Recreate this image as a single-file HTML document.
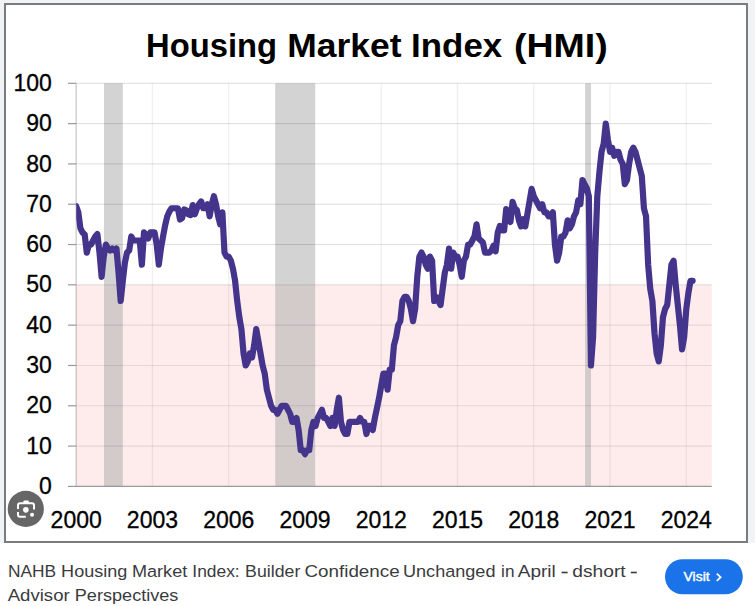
<!DOCTYPE html>
<html><head><meta charset="utf-8">
<style>
html,body{margin:0;padding:0;}
body{width:755px;height:606px;overflow:hidden;background:#fff;position:relative;font-family:"Liberation Sans",sans-serif;}
#top{position:absolute;left:0;top:0;width:755px;height:543px;background:#f1f3f4;}
#img{position:absolute;left:4px;top:3px;width:740px;height:536px;border:2px solid #7b7b7b;background:#fff;}
svg{position:absolute;left:0;top:0;}
</style></head><body>
<div id="top"></div>
<div id="img"></div>
<svg width="755" height="606" viewBox="0 0 755 606">
<g font-family="Liberation Sans" font-weight="bold" font-size="33" fill="#000"><text x="146.1" y="56.6" textLength="130.9" lengthAdjust="spacingAndGlyphs">Housing</text><text x="287.3" y="56.6" textLength="114.2" lengthAdjust="spacingAndGlyphs">Market</text><text x="411.1" y="56.6" textLength="91.1" lengthAdjust="spacingAndGlyphs">Index</text><text x="513.9" y="56.6" textLength="93.8" lengthAdjust="spacingAndGlyphs">(HMI)</text></g>
<rect x="76.2" y="284.85" width="635.5" height="201.55" fill="#feebeb"/>
<g stroke="#000" stroke-opacity="0.06" stroke-width="1.4"><line x1="152.46" y1="83.30" x2="152.46" y2="486.40"/><line x1="228.72" y1="83.30" x2="228.72" y2="486.40"/><line x1="304.98" y1="83.30" x2="304.98" y2="486.40"/><line x1="381.24" y1="83.30" x2="381.24" y2="486.40"/><line x1="457.50" y1="83.30" x2="457.50" y2="486.40"/><line x1="533.76" y1="83.30" x2="533.76" y2="486.40"/><line x1="610.02" y1="83.30" x2="610.02" y2="486.40"/><line x1="686.28" y1="83.30" x2="686.28" y2="486.40"/></g>
<g><rect x="104.0" y="83.30" width="18.80" height="201.55" fill="#d3d3d3"/><rect x="104.0" y="284.85" width="18.80" height="201.55" fill="#d3caca"/><rect x="275.2" y="83.30" width="40.00" height="201.55" fill="#d3d3d3"/><rect x="275.2" y="284.85" width="40.00" height="201.55" fill="#d3caca"/><rect x="585.1" y="83.30" width="5.90" height="201.55" fill="#d3d3d3"/><rect x="585.1" y="284.85" width="5.90" height="201.55" fill="#d3caca"/></g>
<g stroke="#000" stroke-opacity="0.09" stroke-width="1.1"><line x1="76.2" y1="446.09" x2="711.7" y2="446.09"/><line x1="76.2" y1="405.78" x2="711.7" y2="405.78"/><line x1="76.2" y1="365.47" x2="711.7" y2="365.47"/><line x1="76.2" y1="325.16" x2="711.7" y2="325.16"/></g><g stroke="#000" stroke-opacity="0.135" stroke-width="1"><line x1="76.2" y1="284.85" x2="711.7" y2="284.85"/><line x1="76.2" y1="244.54" x2="711.7" y2="244.54"/><line x1="76.2" y1="204.23" x2="711.7" y2="204.23"/><line x1="76.2" y1="163.92" x2="711.7" y2="163.92"/><line x1="76.2" y1="123.61" x2="711.7" y2="123.61"/><line x1="76.2" y1="83.30" x2="711.7" y2="83.30"/></g>
<line x1="76.2" y1="83.30" x2="76.2" y2="486.4" stroke="#000" stroke-opacity="0.17" stroke-width="1.6"/><g stroke="#999" stroke-width="1.2"><line x1="68" y1="486.40" x2="76.2" y2="486.40"/><line x1="68" y1="446.09" x2="76.2" y2="446.09"/><line x1="68" y1="405.78" x2="76.2" y2="405.78"/><line x1="68" y1="365.47" x2="76.2" y2="365.47"/><line x1="68" y1="325.16" x2="76.2" y2="325.16"/><line x1="68" y1="284.85" x2="76.2" y2="284.85"/><line x1="68" y1="244.54" x2="76.2" y2="244.54"/><line x1="68" y1="204.23" x2="76.2" y2="204.23"/><line x1="68" y1="163.92" x2="76.2" y2="163.92"/><line x1="68" y1="123.61" x2="76.2" y2="123.61"/><line x1="68" y1="83.30" x2="76.2" y2="83.30"/><line x1="76.2" y1="486.4" x2="711.7" y2="486.4"/></g>
<clipPath id="pc"><rect x="76.2" y="60" width="660" height="440"/></clipPath>
<polyline clip-path="url(#pc)" points="76.20,206.25 78.32,212.29 80.44,228.42 82.56,232.45 84.67,234.46 86.79,252.60 88.91,244.54 91.03,244.54 93.15,240.51 95.27,236.48 97.38,234.06 99.50,252.60 101.62,276.79 103.74,256.63 105.86,244.54 107.98,248.57 110.09,250.59 112.21,248.57 114.33,250.59 116.45,248.57 118.57,272.76 120.69,300.97 122.80,280.82 124.92,262.68 127.04,252.60 129.16,250.59 131.28,236.48 133.40,240.51 135.51,240.51 137.63,240.51 139.75,240.51 141.87,264.69 143.99,232.45 146.11,234.46 148.22,238.49 150.34,232.45 152.46,232.45 154.58,232.45 156.70,244.54 158.81,264.69 160.93,248.57 163.05,236.48 165.17,225.19 167.29,216.32 169.41,211.49 171.53,208.26 173.64,208.26 175.76,208.26 177.88,208.26 180.00,219.55 182.12,217.94 184.24,209.47 186.35,210.28 188.47,214.31 190.59,215.11 192.71,205.04 194.83,214.31 196.94,208.26 199.06,204.23 201.18,201.41 203.30,208.26 205.42,208.26 207.54,204.23 209.66,216.32 211.77,204.23 213.89,196.17 216.01,204.23 218.13,216.32 220.25,224.38 222.37,212.29 224.48,252.60 226.60,256.63 228.72,256.63 230.84,260.66 232.96,268.73 235.08,280.82 237.19,300.97 239.31,317.10 241.43,329.19 243.55,353.38 245.67,365.47 247.79,361.44 249.90,353.38 252.02,357.41 254.14,345.31 256.26,329.19 258.38,341.28 260.50,353.38 262.61,365.47 264.73,373.53 266.85,389.66 268.97,397.72 271.09,405.78 273.20,409.81 275.32,409.81 277.44,413.84 279.56,409.81 281.68,405.78 283.80,405.78 285.92,405.78 288.03,409.81 290.15,413.84 292.27,421.90 294.39,421.90 296.51,417.87 298.63,429.97 300.74,450.12 302.86,450.12 304.98,454.15 307.10,450.12 309.22,450.12 311.34,429.97 313.45,421.90 315.57,425.94 317.69,417.87 319.81,413.84 321.93,409.81 324.05,417.87 326.16,417.87 328.28,421.90 330.40,425.94 332.52,417.87 334.64,425.94 336.75,409.81 338.87,397.72 340.99,421.90 343.11,429.97 345.23,434.00 347.35,434.00 349.47,421.90 351.58,421.90 353.70,421.90 355.82,421.90 357.94,421.90 360.06,417.87 362.18,421.90 364.29,421.90 366.41,434.00 368.53,425.94 370.65,425.94 372.77,429.97 374.88,417.87 377.00,407.80 379.12,397.72 381.24,385.62 383.36,373.53 385.48,373.53 387.60,389.66 389.71,369.50 391.83,369.50 393.95,345.31 396.07,337.25 398.19,325.16 400.31,321.13 402.42,300.97 404.54,296.94 406.66,296.94 408.78,300.97 410.90,309.04 413.01,321.13 415.13,309.04 417.25,276.79 419.37,256.63 421.49,252.60 423.61,256.63 425.73,264.69 427.84,268.73 429.96,256.63 432.08,260.66 434.20,300.97 436.32,296.94 438.44,300.97 440.55,305.00 442.67,288.88 444.79,272.76 446.91,264.69 449.03,248.57 451.14,268.73 453.26,252.60 455.38,256.63 457.50,256.63 459.62,264.69 461.74,276.79 463.86,260.66 465.97,256.63 468.09,244.54 470.21,244.54 472.33,240.51 474.45,236.48 476.56,224.38 478.68,238.49 480.80,240.51 482.92,242.52 485.04,252.60 487.16,252.60 489.28,252.60 491.39,250.59 493.51,245.75 495.63,251.39 497.75,232.45 499.87,226.00 501.99,230.43 504.10,230.43 506.22,209.07 508.34,216.32 510.46,221.97 512.58,201.81 514.70,208.26 516.81,209.87 518.93,220.35 521.05,226.40 523.17,219.14 525.29,226.40 527.40,213.90 529.52,201.41 531.64,188.91 533.76,196.17 535.88,200.20 538.00,204.23 540.12,208.26 542.23,204.23 544.35,212.29 546.47,212.29 548.59,216.32 550.71,216.32 552.83,212.29 554.94,244.54 557.06,260.66 559.18,252.60 561.30,236.48 563.42,236.48 565.54,232.45 567.65,220.35 569.77,228.42 571.89,224.38 574.01,216.32 576.13,212.29 578.25,200.20 580.36,204.23 582.48,180.04 584.60,184.07 586.72,188.11 588.84,196.17 590.96,365.47 593.07,337.25 595.19,252.60 597.31,196.17 599.43,171.98 601.55,151.83 603.67,143.76 605.78,123.61 607.90,139.73 610.02,151.83 612.14,147.80 614.26,155.86 616.38,151.83 618.49,151.83 620.61,159.89 622.73,163.92 624.85,184.07 626.97,180.04 629.09,163.92 631.20,151.83 633.32,147.80 635.44,151.83 637.56,159.89 639.68,167.95 641.80,176.01 643.91,208.26 646.03,216.32 648.15,264.69 650.27,288.88 652.39,300.97 654.51,333.22 656.62,353.38 658.74,361.44 660.86,345.31 662.98,317.10 665.10,309.04 667.22,305.00 669.33,284.85 671.45,264.69 673.57,260.66 675.69,284.85 677.81,305.00 679.93,325.16 682.04,349.35 684.16,337.25 686.28,309.04 688.40,292.91 690.52,280.82 692.64,280.82" fill="none" stroke="#45348c" stroke-width="6.2" stroke-linejoin="round" stroke-linecap="round"/>
<g font-family="Liberation Sans" font-size="23" fill="#000" stroke="#000" stroke-width="0.3" text-anchor="end"><text x="51.8" y="494.00">0</text><text x="51.8" y="453.69">10</text><text x="51.8" y="413.38">20</text><text x="51.8" y="373.07">30</text><text x="51.8" y="332.76">40</text><text x="51.8" y="292.45">50</text><text x="51.8" y="252.14">60</text><text x="51.8" y="211.83">70</text><text x="51.8" y="171.52">80</text><text x="51.8" y="131.21">90</text><text x="51.8" y="90.90">100</text></g>
<g font-family="Liberation Sans" font-size="23" fill="#000" stroke="#000" stroke-width="0.3" text-anchor="middle"><text x="76.20" y="527.8">2000</text><text x="152.46" y="527.8">2003</text><text x="228.72" y="527.8">2006</text><text x="304.98" y="527.8">2009</text><text x="381.24" y="527.8">2012</text><text x="457.50" y="527.8">2015</text><text x="533.76" y="527.8">2018</text><text x="610.02" y="527.8">2021</text><text x="686.28" y="527.8">2024</text></g>
<circle cx="25.8" cy="508.9" r="18.1" fill="#666"/>
<g fill="none" stroke="#fff" stroke-width="2"><path d="M18 508.9V505.2a2 2 0 0 1 2-2H32a2 2 0 0 1 2 2V509.4"/><path d="M18 512.1V514.8a2 2 0 0 0 2 2H25.8"/></g>
<rect x="23.4" y="500.5" width="5.4" height="3" rx="1" fill="#fff"/>
<circle cx="25.85" cy="509.85" r="2.8" fill="#fff"/><circle cx="32.04" cy="514.8" r="2" fill="#fff"/>
</svg>
<svg width="755" height="606" viewBox="0 0 755 606" style="position:absolute;left:0;top:0">
<g font-family="Liberation Sans" font-size="16.3" fill="#3a3b3d"><text x="8.0" y="576.7" textLength="48.2" lengthAdjust="spacingAndGlyphs">NAHB</text><text x="61.1" y="576.7" textLength="66.3" lengthAdjust="spacingAndGlyphs">Housing</text><text x="132.0" y="576.7" textLength="55.2" lengthAdjust="spacingAndGlyphs">Market</text><text x="192.3" y="576.7" textLength="47.4" lengthAdjust="spacingAndGlyphs">Index:</text><text x="245.1" y="576.7" textLength="55.2" lengthAdjust="spacingAndGlyphs">Builder</text><text x="304.5" y="576.7" textLength="95.1" lengthAdjust="spacingAndGlyphs">Confidence</text><text x="403.0" y="576.7" textLength="92.5" lengthAdjust="spacingAndGlyphs">Unchanged</text><text x="501.1" y="576.7" textLength="13.4" lengthAdjust="spacingAndGlyphs">in</text><text x="517.8" y="576.7" textLength="38.0" lengthAdjust="spacingAndGlyphs">April</text><text x="572.3" y="576.7" textLength="53.4" lengthAdjust="spacingAndGlyphs">dshort</text><rect x="561.6" y="571.7" width="6" height="1.6"/><rect x="630.8" y="571.7" width="6" height="1.6"/><text x="7.7" y="600.6" textLength="62.0" lengthAdjust="spacingAndGlyphs">Advisor</text><text x="74.8" y="600.6" textLength="103.6" lengthAdjust="spacingAndGlyphs">Perspectives</text></g>
<rect x="665" y="559.2" width="77.8" height="35.1" rx="17.55" fill="#1a73e8"/>
<text x="683.6" y="580.6" textLength="26" lengthAdjust="spacingAndGlyphs" font-family="Liberation Sans" font-size="13.5" fill="#fff" stroke="#fff" stroke-width="0.45">Visit</text>
<path d="M716.8 573.6L720.6 577.2L716.8 580.8" fill="none" stroke="#fff" stroke-width="1.8"/>
</svg>
</body></html>
